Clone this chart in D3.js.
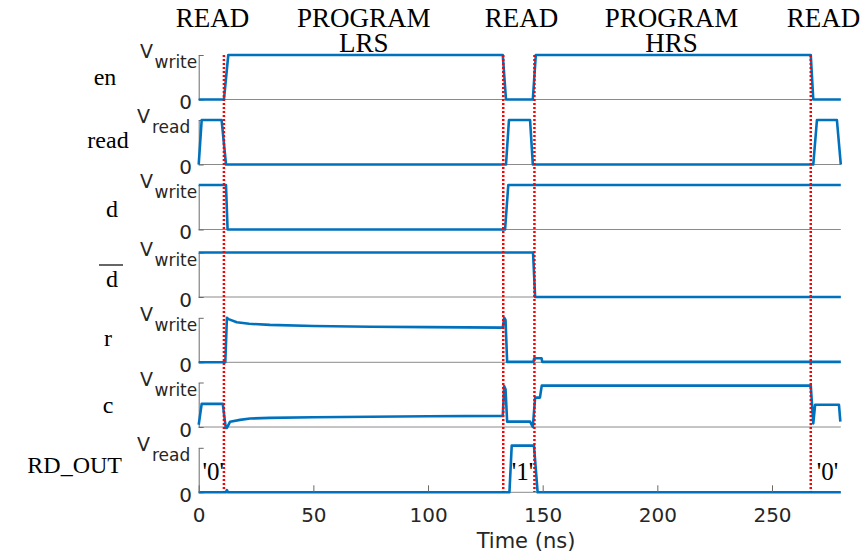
<!DOCTYPE html>
<html><head><meta charset="utf-8">
<script src="https://cdn.jsdelivr.net/npm/d3@7"></script>
<style>body{margin:0;background:#fff}</style>
</head><body>
<svg id="chart" width="866" height="558"></svg>
<script>
// ---- data ----
const signalNames = ["en", "read", "d", "d", "r", "c", "RD_OUT"];
const signalOverline = [false, false, false, true, false, false, false];
const vLabels = ["write", "read", "write", "write", "write", "write", "read"];

const en    = [[0,0],[11,0],[12.9,1],[132.6,1],[134,0],[145.7,0],[147,1],[266.9,1],[268,0],[280,0]];
const read  = [[0,0],[1.3,1],[10,1],[11.9,0],[134,0],[135.3,1],[144.5,1],[145.7,0],[268,0],[269.6,1],[278.3,1],[280,0]];
const dSig  = [[0,1],[11.9,1],[12.6,0],[133.6,0],[135,1],[280,1]];
const dbar  = [[0,1],[145.8,1],[146.7,0],[280,0]];
const rSig  = [[0,0],[11.6,0],[12.3,1.0],[13,0.97],[16.6,0.9],[22,0.865],[31,0.84],[50,0.815],[75,0.8],[100,0.79],[132.6,0.78],
               [133.2,1.0],[133.8,0.95],[134.5,0.01],[146,0.01],[146.3,0.09],[149.5,0.09],[149.8,0.01],[280,0.01]];
const cSig  = [[0,0.05],[1.3,0.52],[10.5,0.52],[11.8,-0.02],[12.3,-0.02],[13.7,0.12],[18,0.16],[22.4,0.19],[31,0.205],[50,0.22],
               [75,0.23],[100,0.24],[132.6,0.25],[133.2,0.92],[133.8,0.85],[134.5,0.12],[144.5,0.12],[145.7,0.0],[146.7,0.66],
               [148.8,0.66],[149.6,0.93],[266.9,0.93],[268,0.08],[268.8,0.5],[279.2,0.5],[279.8,0.12]];
const rdOut = [[0,0],[11.8,0],[12.3,0.05],[12.8,0],[135.5,0],[136.5,1.05],[146.2,1.05],[147.8,0],[280,0]];
const signals = [en, read, dSig, dbar, rSig, cSig, rdOut];

const markerTimes = [11, 132.8, 146.4, 266.9];
const xTicks = [0, 50, 100, 150, 200, 250];
const phaseLabels = ["READ", "PROGRAM", "READ", "PROGRAM", "READ"];
const phaseSub = ["", "LRS", "", "HRS", ""];
const phaseTimes = [6, 72, 140.8, 206.2, 272.5];
const bitLabels = ["'0'", "'1'", "'0'"];
const bitTimes = [6.4, 141.2, 274.2];

// ---- layout ----
const svg = d3.select("#chart");
const x = d3.scaleLinear().domain([0, 280]).range([198.7, 840.8]);
const bases = [99.5, 164.5, 229.5, 297, 362.3, 427, 492.3];
const H = 44.5;
const labelBaselines = [85, 148, 217, 287, 346, 413, 473];
const labelX = [105, 108, 112, 112, 108, 108, 122];
const blue = "#0072BD";
const serif = "'Liberation Serif','Times New Roman',serif";
const sans = "'DejaVu Sans',Verdana,sans-serif";

const ys = bases.map(b => d3.scaleLinear().domain([0, 1]).range([b, b - H]));

signals.forEach((s, i) => {
  const y = ys[i];
  const g = svg.append("g");
  // baseline
  g.append("line").attr("x1", x(0)).attr("x2", x(280)).attr("y1", y(0)).attr("y2", y(0))
    .attr("stroke", "#8a8a8a").attr("stroke-width", 1);
  // y axis bracket
  const ax = g.append("g").attr("transform", `translate(${x(0)},0)`)
    .call(d3.axisLeft(y).tickValues([0, 1]).tickSize(-5).tickSizeOuter(0).tickFormat(""));
  ax.selectAll("path,line").attr("stroke", "#6a6a6a").attr("stroke-width", 1);
  // tick labels
  const isRead = vLabels[i] === "read";
  g.append("text").attr("x", isRead ? 137 : 140).attr("y", y(1) + 3)
    .attr("font-family", sans).attr("font-size", 19).attr("fill", "#262626").text("V");
  g.append("text").attr("x", isRead ? 152 : 154.5).attr("y", y(1) + 13)
    .attr("font-family", sans).attr("font-size", 17).attr("fill", "#262626").text(vLabels[i]);
  g.append("text").attr("x", 192).attr("y", y(0) + 9.5).attr("text-anchor", "end")
    .attr("font-family", sans).attr("font-size", 20).attr("fill", "#262626").text("0");
  // signal name
  const isLong = signalNames[i].length > 4;
  g.append("text").attr("x", labelX[i]).attr("y", labelBaselines[i])
    .attr("text-anchor", isLong ? "end" : "middle")
    .attr("font-family", serif).attr("font-size", 24).attr("fill", "#000").text(signalNames[i]);
  if (signalOverline[i]) {
    g.append("line").attr("x1", 99).attr("x2", 123).attr("y1", labelBaselines[i] - 22).attr("y2", labelBaselines[i] - 22)
      .attr("stroke", "#000").attr("stroke-width", 1.2);
  }
  // waveform
  g.append("path").datum(s)
    .attr("d", d3.line().x(d => x(d[0])).y(d => y(d[1])))
    .attr("fill", "none").attr("stroke", blue).attr("stroke-width", 2.6)
    .attr("stroke-linejoin", "round");
});

// bottom x axis ticks + labels
const xa = svg.append("g").attr("transform", `translate(0,${bases[6]})`)
  .call(d3.axisBottom(x).tickValues(xTicks).tickSize(-7).tickSizeOuter(0).tickPadding(15.5));
xa.select(".domain").remove();
xa.selectAll("line").attr("stroke", "#6a6a6a");
xa.selectAll("text").attr("font-family", sans).attr("font-size", 20).attr("fill", "#262626");
svg.append("text").attr("x", 526).attr("y", 548).attr("text-anchor", "middle")
  .attr("font-family", sans).attr("font-size", 21).attr("fill", "#262626").text("Time (ns)");

// red dotted markers
svg.selectAll(".marker").data(markerTimes).join("line").attr("class", "marker")
  .attr("x1", d => x(d)).attr("x2", d => x(d)).attr("y1", 55).attr("y2", 492)
  .attr("stroke", "#ff0000").attr("stroke-width", 2.5).attr("stroke-dasharray", "2,2");

// phase labels (two-line labels as one text element)
const phase = svg.selectAll(".phase").data(phaseLabels).join("text").attr("class", "phase")
  .attr("x", (d, i) => x(phaseTimes[i])).attr("y", 27).attr("text-anchor", "middle")
  .attr("font-family", serif).attr("font-size", 27).attr("fill", "#000");
phase.append("tspan").attr("x", (d, i) => x(phaseTimes[i])).attr("y", 27).text(d => d);
phase.filter((d, i) => phaseSub[i] !== "").append("tspan")
  .attr("x", function() { return d3.select(this.parentNode).attr("x"); })
  .attr("y", 52).text(function() {
    const idx = phaseLabels.indexOf(d3.select(this.parentNode).datum());
    return "";
  });
// set the sub-lines by index
phase.each(function(d, i) {
  const t = d3.select(this).selectAll("tspan");
  if (phaseSub[i] !== "") d3.select(t.nodes()[1]).text(phaseSub[i]);
});

// bit labels
svg.selectAll(".bit").data(bitLabels).join("text").attr("class", "bit")
  .attr("x", (d, i) => x(bitTimes[i])).attr("y", 480).attr("text-anchor", "middle")
  .attr("font-family", serif).attr("font-size", 25).attr("fill", "#000").text(d => d);
</script>
</body></html>
